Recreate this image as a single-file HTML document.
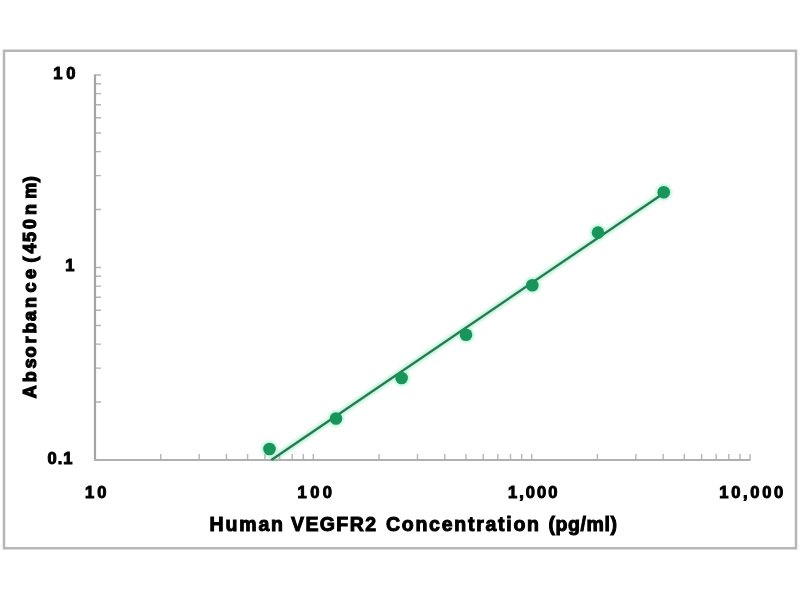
<!DOCTYPE html>
<html><head><meta charset="utf-8"><title>Human VEGFR2 standard curve</title>
<style>html,body{margin:0;padding:0;background:#fff;width:800px;height:600px;overflow:hidden}svg{display:block;filter:blur(0.4px)}</style>
</head><body>
<svg width="800" height="600" viewBox="0 0 800 600">
<rect x="4" y="50.75" width="792" height="497.5" fill="none" stroke="#b6b6b6" stroke-width="2.5"/>
<defs><filter id="bl" x="-10%" y="-10%" width="120%" height="120%"><feGaussianBlur stdDeviation="1.3"/></filter></defs><g fill="#c8f6e0" stroke="#c8f6e0" filter="url(#bl)"><line x1="271.3" y1="460" x2="663.75" y2="193.2" stroke-width="7"/><circle cx="269.5" cy="449" r="8.5" stroke="none"/><circle cx="336" cy="418.5" r="8.5" stroke="none"/><circle cx="401.6" cy="378" r="8.5" stroke="none"/><circle cx="466" cy="334.8" r="8.5" stroke="none"/><circle cx="532.3" cy="285.2" r="8.5" stroke="none"/><circle cx="598" cy="232.6" r="8.5" stroke="none"/><circle cx="663.75" cy="192.3" r="8.5" stroke="none"/></g>
<path d="M95,460.00h6M95,402.05h6M95,368.15h6M95,344.10h6M95,325.45h6M95,310.21h6M95,297.32h6M95,286.16h6M95,276.31h6M95,267.50h6M95,267.50h6M95,209.55h6M95,175.65h6M95,151.60h6M95,132.95h6M95,117.71h6M95,104.82h6M95,93.66h6M95,83.81h6M95,75.00h6M95.00,460v-6M160.72,460v-6M199.17,460v-6M226.45,460v-6M247.61,460v-6M264.90,460v-6M279.51,460v-6M292.17,460v-6M303.34,460v-6M313.33,460v-6M313.33,460v-6M379.06,460v-6M417.50,460v-6M444.78,460v-6M465.94,460v-6M483.23,460v-6M497.85,460v-6M510.51,460v-6M521.68,460v-6M531.67,460v-6M531.67,460v-6M597.39,460v-6M635.84,460v-6M663.12,460v-6M684.28,460v-6M701.56,460v-6M716.18,460v-6M728.84,460v-6M740.01,460v-6M750.00,460v-6" stroke="#b4b4b4" stroke-width="1.4" fill="none"/>
<path d="M95,74.5V460" stroke="#a4a4a4" stroke-width="2.2" fill="none"/>
<path d="M94,460H750.5" stroke="#b0b0b0" stroke-width="2.2" fill="none"/>
<line x1="271.3" y1="460" x2="663.75" y2="193.2" stroke="#2a7852" stroke-width="2.3"/>
<circle cx="269.5" cy="449" r="6.3" fill="#17955a"/>
<circle cx="336" cy="418.5" r="6.3" fill="#17955a"/>
<circle cx="401.6" cy="378" r="6.3" fill="#17955a"/>
<circle cx="466" cy="334.8" r="6.3" fill="#17955a"/>
<circle cx="532.3" cy="285.2" r="6.3" fill="#17955a"/>
<circle cx="598" cy="232.6" r="6.3" fill="#17955a"/>
<circle cx="663.75" cy="192.3" r="6.3" fill="#17955a"/>
<text transform="translate(53.25,78.6) scale(1.0,1)" font-family="Liberation Sans, Arial, sans-serif" font-weight="bold" stroke="#000" stroke-width="1.0" font-size="16.5" textLength="22.25" lengthAdjust="spacing">10</text>
<text transform="translate(65.25,271.4) scale(1.0,1)" font-family="Liberation Sans, Arial, sans-serif" font-weight="bold" stroke="#000" stroke-width="1.0" font-size="16.5">1</text>
<text transform="translate(47.50,463.6) scale(1.0,1)" font-family="Liberation Sans, Arial, sans-serif" font-weight="bold" stroke="#000" stroke-width="1.0" font-size="16.5" textLength="25.00" lengthAdjust="spacing">0.1</text>
<text transform="translate(85.00,498.3) scale(1.0,1)" font-family="Liberation Sans, Arial, sans-serif" font-weight="bold" stroke="#000" stroke-width="1.0" font-size="16.5" textLength="21.50" lengthAdjust="spacing">10</text>
<text transform="translate(297.50,498.3) scale(1.0,1)" font-family="Liberation Sans, Arial, sans-serif" font-weight="bold" stroke="#000" stroke-width="1.0" font-size="16.5" textLength="34.50" lengthAdjust="spacing">100</text>
<text transform="translate(508.00,498.0) scale(1.0,1)" font-family="Liberation Sans, Arial, sans-serif" font-weight="bold" stroke="#000" stroke-width="1.0" font-size="16.5" textLength="49.50" lengthAdjust="spacing">1,000</text>
<text transform="translate(719.25,498.0) scale(1.0,1)" font-family="Liberation Sans, Arial, sans-serif" font-weight="bold" stroke="#000" stroke-width="1.0" font-size="16.5" textLength="64.00" lengthAdjust="spacing">10,000</text>
<text transform="translate(209.50,530.8) scale(1.0,1)" font-family="Liberation Sans, Arial, sans-serif" font-weight="bold" stroke="#000" stroke-width="1.0" font-size="19.5" textLength="73.50" lengthAdjust="spacing">Human</text>
<text transform="translate(291.00,530.8) scale(1.0,1)" font-family="Liberation Sans, Arial, sans-serif" font-weight="bold" stroke="#000" stroke-width="1.0" font-size="19.5" textLength="85.00" lengthAdjust="spacing">VEGFR2</text>
<text transform="translate(386.00,530.8) scale(1.0,1)" font-family="Liberation Sans, Arial, sans-serif" font-weight="bold" stroke="#000" stroke-width="1.0" font-size="19.5" textLength="153.00" lengthAdjust="spacing">Concentration</text>
<text transform="translate(548.50,530.8) scale(1.0,1)" font-family="Liberation Sans, Arial, sans-serif" font-weight="bold" stroke="#000" stroke-width="1.0" font-size="19.5" textLength="68.50" lengthAdjust="spacing">(pg/ml)</text>
<g transform="translate(36.4,0) scale(1.0,1) rotate(-90)"><text x="-398.27 -382.26 -368.51 -357.51 -343.49 -333.51 -321.06 -308.01 -292.51 -279.01 -273.01 -262.54 -253.51 -242.01 -229.01 -215.01 -198.79 -182.18" y="0" font-family="Liberation Sans, Arial, sans-serif" font-weight="bold" stroke="#000" stroke-width="1.2" font-size="18">Absorbance (450nm)</text></g>
</svg>
</body></html>
